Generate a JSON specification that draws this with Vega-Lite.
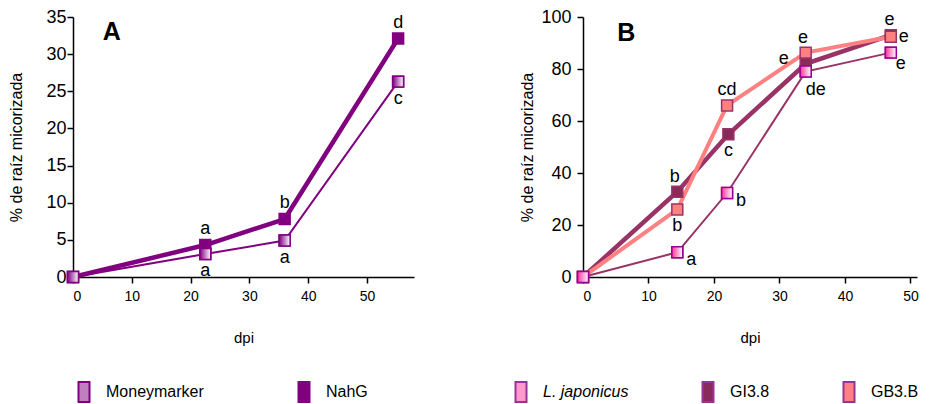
{
  "$schema": "https://vega.github.io/schema/vega-lite/v6.json",
  "padding": {"left": 8, "top": 8, "right": 5, "bottom": 0},
  "background": "white",
  "config": {
    "view": {"stroke": null},
    "font": "Liberation Sans",
    "axis": {"grid": false, "domainColor": "black", "domainWidth": 1.5, "tickColor": "black", "tickWidth": 1.5, "tickSize": 6, "labelColor": "black", "titleColor": "black", "labelFont": "Liberation Sans", "titleFont": "Liberation Sans", "titleFontWeight": "normal", "labelOverlap": false},
    "legend": {"labelFont": "Liberation Sans", "labelFontSize": 16, "labelColor": "black"},
    "concat": {"spacing": 96}
  },
  "datasets": {
    "A": [
      {"series": "Moneymarker", "dpi": 0, "pct": 0},
      {"series": "Moneymarker", "dpi": 22.5, "pct": 3.1},
      {"series": "Moneymarker", "dpi": 36, "pct": 4.9},
      {"series": "Moneymarker", "dpi": 55.3, "pct": 26.3},
      {"series": "NahG", "dpi": 0, "pct": 0},
      {"series": "NahG", "dpi": 22.5, "pct": 4.3},
      {"series": "NahG", "dpi": 36, "pct": 7.8},
      {"series": "NahG", "dpi": 55.3, "pct": 32.1}
    ],
    "A_above": [
      {"dpi": 22.5, "pct": 4.3, "letter": "a"},
      {"dpi": 36, "pct": 7.8, "letter": "b"},
      {"dpi": 55.3, "pct": 32.1, "letter": "d"}
    ],
    "A_below": [
      {"dpi": 22.5, "pct": 3.1, "letter": "a"},
      {"dpi": 36, "pct": 4.9, "letter": "a"},
      {"dpi": 55.3, "pct": 26.3, "letter": "c"}
    ],
    "A_tag": [{"dpi": 6.6, "pct": 33, "tag": "A"}],
    "B": [
      {"series": "L. japonicus", "dpi": 0, "pct": 0},
      {"series": "L. japonicus", "dpi": 14.4, "pct": 9.5},
      {"series": "L. japonicus", "dpi": 22, "pct": 32.3},
      {"series": "L. japonicus", "dpi": 34, "pct": 79},
      {"series": "L. japonicus", "dpi": 47, "pct": 86.3},
      {"series": "GI3.8", "dpi": 0, "pct": 0},
      {"series": "GI3.8", "dpi": 14.4, "pct": 32.8},
      {"series": "GI3.8", "dpi": 22.2, "pct": 54.9},
      {"series": "GI3.8", "dpi": 34, "pct": 82},
      {"series": "GI3.8", "dpi": 47, "pct": 93},
      {"series": "GB3.B", "dpi": 0, "pct": 0},
      {"series": "GB3.B", "dpi": 14.4, "pct": 26},
      {"series": "GB3.B", "dpi": 22, "pct": 66},
      {"series": "GB3.B", "dpi": 34, "pct": 86.3},
      {"series": "GB3.B", "dpi": 47, "pct": 92.4}
    ],
    "B_above": [
      {"dpi": 14.0, "pct": 32.8, "letter": "b"},
      {"dpi": 22, "pct": 66, "letter": "cd"},
      {"dpi": 33.6, "pct": 86.3, "letter": "e"},
      {"dpi": 46.8, "pct": 93, "letter": "e"}
    ],
    "B_below": [
      {"dpi": 14.4, "pct": 26, "letter": "b"},
      {"dpi": 22.2, "pct": 54.9, "letter": "c"}
    ],
    "B_right": [
      {"dpi": 14.4, "pct": 9.5, "letter": "a"},
      {"dpi": 22, "pct": 32.3, "letter": "b"}
    ],
    "B_side": [
      {"dpi": 47, "pct": 92.4, "letter": "e"}
    ],
    "B_rightlow": [
      {"dpi": 47, "pct": 86.3, "letter": "e"}
    ],
    "B_left": [
      {"dpi": 34, "pct": 82, "letter": "e"}
    ],
    "B_belowright": [
      {"dpi": 34, "pct": 79, "letter": "de"}
    ],
    "B_tag": [{"dpi": 6.6, "pct": 94, "tag": "B"}]
  },
  "resolve": {
    "scale": {"x": "independent", "y": "independent", "fill": "independent"},
    "legend": {"fill": "independent"}
  },
  "hconcat": [
    {
      "width": 341,
      "height": 260,
      "encoding": {
        "x": {"field": "dpi", "type": "quantitative", "scale": {"domain": [0, 58], "nice": false}, "axis": {"values": [0, 10, 20, 30, 40, 50], "title": "dpi", "labelFontSize": 14, "titleFontSize": 15, "titlePadding": 27, "labelPadding": 6}},
        "y": {"field": "pct", "type": "quantitative", "scale": {"domain": [0, 35], "nice": false}, "axis": {"values": [0, 5, 10, 15, 20, 25, 30, 35], "title": "% de raíz micorizada", "labelFontSize": 18, "titleFontSize": 16, "titlePadding": 21, "labelPadding": 1}}
      },
      "layer": [
        {
          "data": {"name": "A"},
          "transform": [{"filter": "datum.series == 'Moneymarker'"}],
          "mark": {"type": "line", "color": "#800080", "strokeWidth": 2},
          "encoding": {}
        },
        {
          "data": {"name": "A"},
          "transform": [{"filter": "datum.series == 'NahG'"}],
          "mark": {"type": "line", "color": "#800080", "strokeWidth": 4.5},
          "encoding": {}
        },
        {
          "data": {"name": "A"},
          "mark": {"type": "point", "shape": "square", "size": 120, "filled": true, "opacity": 1, "strokeWidth": 1.5, "stroke": "#800080"},
          "encoding": {
            "fill": {"field": "series", "type": "nominal", "scale": {"domain": ["Moneymarker", "NahG"], "range": ["#C080C0", "#800080"]},
              "legend": {"title": null, "orient": "none", "legendX": 0, "legendY": 364, "direction": "horizontal", "symbolType": "M-0.55,-1H0.55V1H-0.55Z", "symbolSize": 400, "symbolStrokeColor": "#800080", "symbolStrokeWidth": 2, "columnPadding": 89, "labelOffset": 11}}
          }
        },
        {
          "data": {"name": "A"},
          "transform": [{"filter": "datum.series == 'Moneymarker'"}],
          "mark": {"type": "point", "shape": "square", "size": 120, "filled": true, "opacity": 1, "strokeWidth": 1.5, "stroke": "#800080",
            "fill": {"gradient": "linear", "x1": 0, "y1": 0, "x2": 1, "y2": 0, "stops": [{"offset": 0, "color": "#800080"}, {"offset": 1, "color": "#ffffff"}]}},
          "encoding": {}
        },
        {
          "data": {"name": "A_above"},
          "mark": {"type": "text", "fontSize": 18, "dy": -16, "color": "black", "baseline": "middle"},
          "encoding": {"text": {"field": "letter"}}
        },
        {
          "data": {"name": "A_below"},
          "mark": {"type": "text", "fontSize": 18, "dy": 17, "color": "black", "baseline": "middle"},
          "encoding": {"text": {"field": "letter"}}
        },
        {
          "data": {"name": "A_tag"},
          "mark": {"type": "text", "fontSize": 25, "fontWeight": "bold", "color": "black", "baseline": "middle"},
          "encoding": {"text": {"field": "tag"}}
        }
      ]
    },
    {
      "width": 334,
      "height": 260,
      "encoding": {
        "x": {"field": "dpi", "type": "quantitative", "scale": {"domain": [0, 51], "nice": false}, "axis": {"values": [0, 10, 20, 30, 40, 50], "title": "dpi", "labelFontSize": 14, "titleFontSize": 15, "titlePadding": 27, "labelPadding": 6}},
        "y": {"field": "pct", "type": "quantitative", "scale": {"domain": [0, 100], "nice": false}, "axis": {"values": [0, 20, 40, 60, 80, 100], "title": "% de raíz micorizada", "labelFontSize": 18, "titleFontSize": 16, "titlePadding": 5, "labelPadding": 6}}
      },
      "layer": [
        {
          "data": {"name": "B"},
          "transform": [{"filter": "datum.series == 'L. japonicus'"}],
          "mark": {"type": "line", "color": "#993366", "strokeWidth": 2},
          "encoding": {}
        },
        {
          "data": {"name": "B"},
          "transform": [{"filter": "datum.series == 'GI3.8'"}],
          "mark": {"type": "line", "color": "#993366", "strokeWidth": 4.5},
          "encoding": {}
        },
        {
          "data": {"name": "B"},
          "transform": [{"filter": "datum.series == 'GB3.B'"}],
          "mark": {"type": "line", "color": "#FF8080", "strokeWidth": 4},
          "encoding": {}
        },
        {
          "data": {"name": "B"},
          "mark": {"type": "point", "shape": "square", "size": 120, "filled": true, "opacity": 1, "strokeWidth": 1.5, "stroke": "#993366"},
          "encoding": {
            "fill": {"field": "series", "type": "nominal", "scale": {"domain": ["L. japonicus", "GI3.8", "GB3.B"], "range": ["#FF99CC", "#8A2A5A", "#FF8080"]},
              "legend": {"title": null, "orient": "none", "legendX": -73, "legendY": 364, "direction": "horizontal", "symbolType": "M-0.55,-1H0.55V1H-0.55Z", "symbolSize": 400, "symbolStrokeColor": "#993399", "symbolStrokeWidth": 2, "columnPadding": 68, "labelOffset": 11,
                "encoding": {
                  "labels": {"fontStyle": {"value": {"signal": "datum.value == 'L. japonicus' ? 'italic' : 'normal'"}}}
                }}}
          }
        },
        {
          "data": {"name": "B"},
          "transform": [{"filter": "datum.series == 'L. japonicus'"}],
          "mark": {"type": "point", "shape": "square", "size": 120, "filled": true, "opacity": 1, "strokeWidth": 1.5, "stroke": "#990099",
            "fill": {"gradient": "linear", "x1": 0, "y1": 0, "x2": 1, "y2": 0, "stops": [{"offset": 0, "color": "#FF3399"}, {"offset": 1, "color": "#ffffff"}]}},
          "encoding": {}
        },
        {
          "data": {"name": "B_above"},
          "mark": {"type": "text", "fontSize": 18, "dy": -15, "color": "black", "baseline": "middle"},
          "encoding": {"text": {"field": "letter"}}
        },
        {
          "data": {"name": "B_below"},
          "mark": {"type": "text", "fontSize": 18, "dy": 17, "color": "black", "baseline": "middle"},
          "encoding": {"text": {"field": "letter"}}
        },
        {
          "data": {"name": "B_right"},
          "mark": {"type": "text", "fontSize": 18, "dx": 14, "dy": 8, "color": "black", "baseline": "middle"},
          "encoding": {"text": {"field": "letter"}}
        },
        {
          "data": {"name": "B_side"},
          "mark": {"type": "text", "fontSize": 18, "dx": 13, "dy": 0, "color": "black", "baseline": "middle"},
          "encoding": {"text": {"field": "letter"}}
        },
        {
          "data": {"name": "B_rightlow"},
          "mark": {"type": "text", "fontSize": 18, "dx": 10, "dy": 11, "color": "black", "baseline": "middle"},
          "encoding": {"text": {"field": "letter"}}
        },
        {
          "data": {"name": "B_left"},
          "mark": {"type": "text", "fontSize": 18, "dx": -22, "dy": -5, "color": "black", "baseline": "middle"},
          "encoding": {"text": {"field": "letter"}}
        },
        {
          "data": {"name": "B_belowright"},
          "mark": {"type": "text", "fontSize": 18, "dx": 10, "dy": 18, "color": "black", "baseline": "middle"},
          "encoding": {"text": {"field": "letter"}}
        },
        {
          "data": {"name": "B_tag"},
          "mark": {"type": "text", "fontSize": 25, "fontWeight": "bold", "color": "black", "baseline": "middle"},
          "encoding": {"text": {"field": "tag"}}
        }
      ]
    }
  ]
}
